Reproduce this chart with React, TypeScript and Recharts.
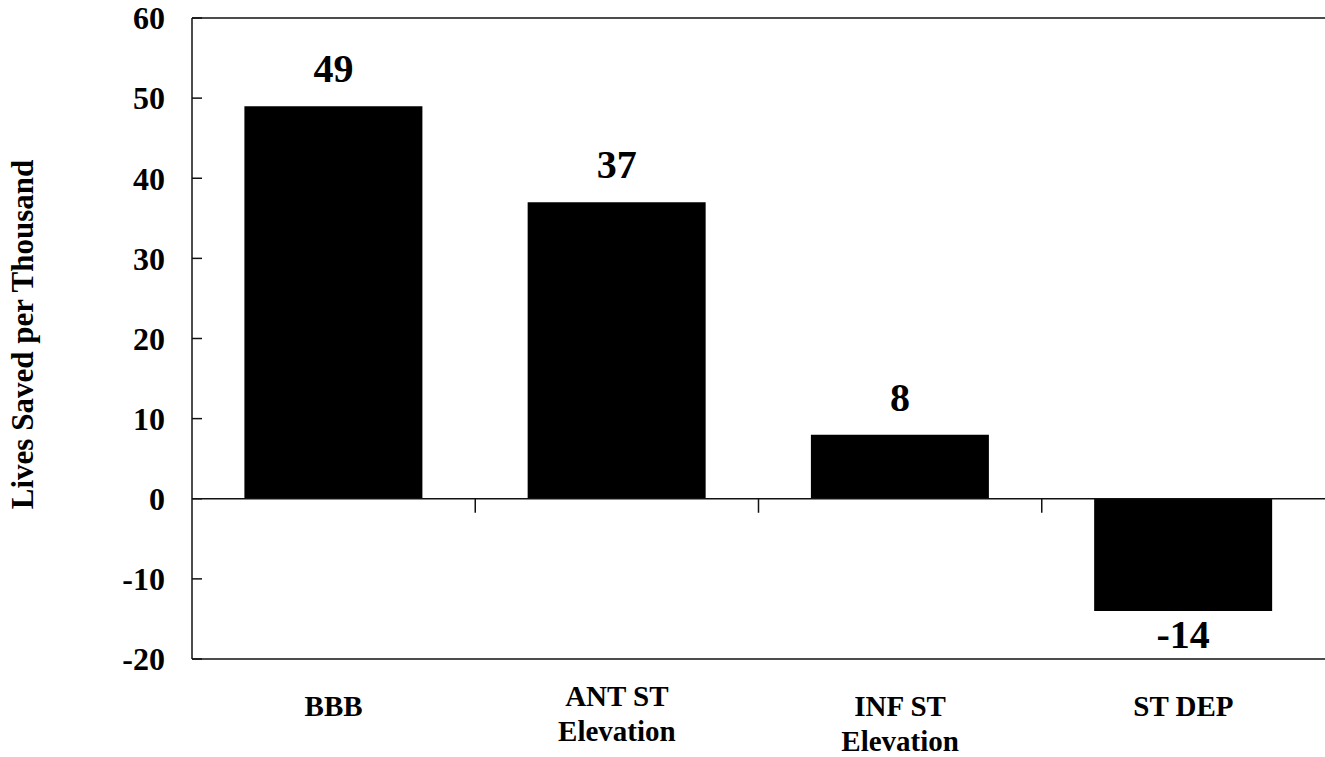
import React from 'react';
import { BarChart, Bar, XAxis, YAxis, ReferenceLine, LabelList, Label } from 'recharts';

const categories = ['BBB', 'ANT ST\nElevation', 'INF ST\nElevation', 'ST DEP'];
const livesSaved = [49, 37, 8, -14];
const yTicks = [-20, -10, 0, 10, 20, 30, 40, 50, 60];
const yAxisTitle = 'Lives Saved per Thousand';

const data = categories.map((c, i) => ({ name: c, value: livesSaved[i] }));
const boundaryCategories = categories.slice(1);

const FONT = '"Liberation Serif", "Times New Roman", Times, serif';

const CategoryTick = (props: any) => {
  const { x, y, payload, index } = props;
  const lines = String(payload.value).split('\n');
  const lift = index === 1 ? 10 : 0;
  return (
    <text x={x} y={y} textAnchor="middle" fontFamily={FONT} fontWeight="bold" fontSize={29} fill="#000">
      {lines.map((l: string, i: number) => (
        <tspan key={i} x={x} y={y + 56.5 - lift + i * 35}>
          {l}
        </tspan>
      ))}
    </text>
  );
};

const ValueLabel = (props: any) => {
  const { x, y, width, height, value } = props;
  const top = Math.min(y, y + height);
  const bottom = Math.max(y, y + height);
  const cx = x + width / 2;
  const ty = value >= 0 ? top - 24 : bottom + 37;
  return (
    <text x={cx} y={ty} textAnchor="middle" fontFamily={FONT} fontWeight="bold" fontSize={40} fill="#000">
      {value}
    </text>
  );
};

const YTitle = (props: any) => {
  const { viewBox } = props;
  const cx = viewBox.x + 33;
  const cy = viewBox.y + viewBox.height / 2 - 4;
  return (
    <text
      x={cx}
      y={cy}
      transform={`rotate(-90, ${cx}, ${cy})`}
      textAnchor="middle"
      fontFamily={FONT}
      fontWeight="bold"
      fontSize={31}
      fill="#000"
    >
      {yAxisTitle}
    </text>
  );
};

export default function App() {
  return (
    <div style={{ position: 'absolute', left: 0, top: 0, background: '#fff' }}>
      <BarChart
        width={1325}
        height={757}
        data={data}
        margin={{ top: 18, right: 0, bottom: 0, left: 0 }}
        barCategoryGap="18.5%"
      >
        <XAxis
          dataKey="name"
          height={98}
          tickLine={false}
          tickSize={0}
          tickMargin={0}
          interval={0}
          axisLine={{ stroke: '#111', strokeWidth: 1.5 }}
          tick={<CategoryTick />}
        />
        <YAxis
          width={192}
          domain={[-20, 60]}
          ticks={yTicks}
          interval={0}
          tickSize={-10}
          tickMargin={37}
          axisLine={{ stroke: '#111', strokeWidth: 1.5 }}
          tickLine={{ stroke: '#111', strokeWidth: 1.5 }}
          tick={{ fontFamily: FONT, fontWeight: 'bold', fontSize: 32, fill: '#000' }}
        >
          <Label content={<YTitle />} />
        </YAxis>
        <Bar dataKey="value" fill="#000" isAnimationActive={false}>
          <LabelList dataKey="value" content={<ValueLabel />} />
        </Bar>
        <ReferenceLine y={60} stroke="#111" strokeWidth={1.5} />
        <ReferenceLine y={0} stroke="#111" strokeWidth={1.5} />
        {boundaryCategories.map((c) => (
          <ReferenceLine
            key={c}
            position="start"
            segment={[
              { x: c, y: 0 },
              { x: c, y: -1.75 },
            ]}
            stroke="#111"
            strokeWidth={1.5}
          />
        ))}
      </BarChart>
    </div>
  );
}
